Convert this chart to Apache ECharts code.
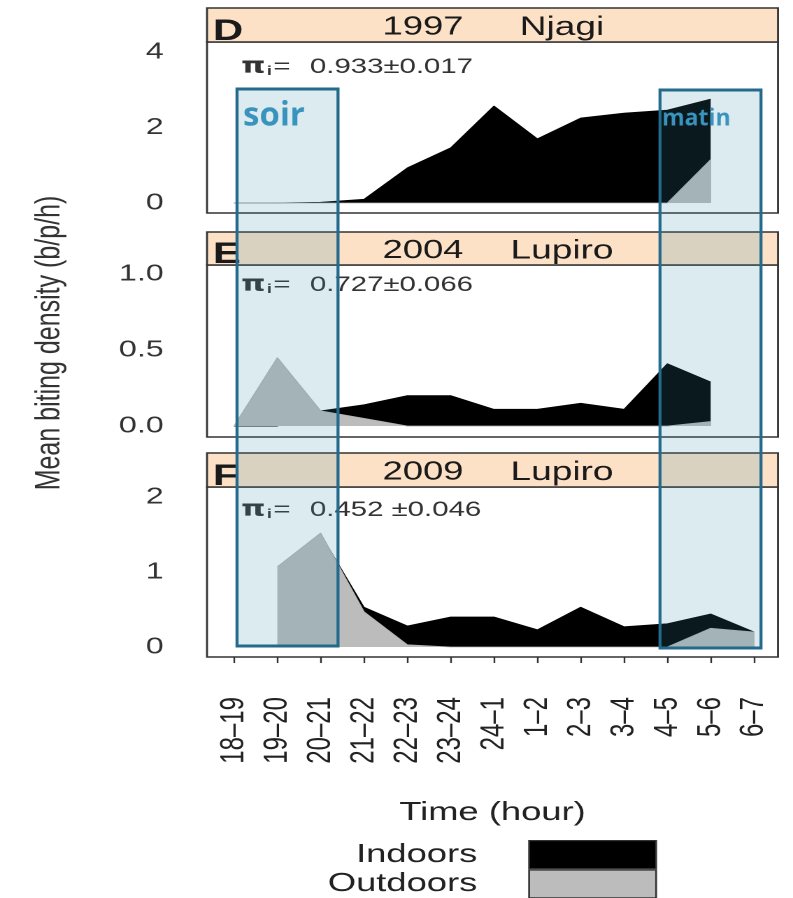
<!DOCTYPE html>
<html><head><meta charset="utf-8">
<script src="https://cdn.jsdelivr.net/npm/echarts@6/dist/echarts.min.js"></script>
<style>
html,body{margin:0;padding:0;background:#fff;overflow:hidden}
#wrap{width:793px;height:898px;overflow:hidden}
#c{width:567px;height:898px;transform:scaleX(1.3986);transform-origin:0 0}
</style>
</head><body><div id="wrap"><div id="c"></div></div>
<script>
// ---- data ----
const hours = ['18–19','19–20','20–21','21–22','22–23','23–24','24–1','1–2','2–3','3–4','4–5','5–6','6–7'];
const indoorD  = [0, 0, 0.02, 0.1, 0.93, 1.46, 2.57, 1.7, 2.25, 2.38, 2.46, 2.75, null];
const outdoorD = [0, 0, 0, 0, 0, 0, 0, 0, 0, 0, 0, 1.15, null];
const indoorE  = [0, 0, 0.1, 0.14, 0.2, 0.2, 0.11, 0.11, 0.15, 0.11, 0.41, 0.29, null];
const outdoorE = [0, 0.45, 0.1, 0.05, 0, 0, 0, 0, 0, 0, 0, 0.03, null];
const indoorF  = [null, 0, 1.5, 0.53, 0.28, 0.4, 0.4, 0.23, 0.53, 0.27, 0.31, 0.44, 0.2];
const outdoorF = [null, 1.07, 1.52, 0.47, 0.03, 0, 0, 0, 0, 0, 0, 0.25, 0.2];
const yTicksD = [0, 2, 4];
const yTicksE = [0, 0.5, 1.0];
const yTicksF = [0, 1, 2];
const panelLetters = ['D', 'E', 'F'];
const panelYears   = ['1997', '2004', '2009'];
const panelSites   = ['Njagi', 'Lupiro', 'Lupiro'];
const panelPi      = ['0.933±0.017', '0.727±0.066', '0.452 ±0.046'];

// ---- layout (the whole figure is stretched horizontally by S, like the reference) ----
const S = 793 / 567;
const sx = x => x / S;             // reference pixel x -> inner x
const FONT = "'Liberation Sans', Arial, sans-serif";
const pairs = arr => arr.map((v,i)=>[i,v]).filter(p=>p[1]!==null);

const layout = [
  {stripTop:8,   top:42,  height:171, ymin:-0.265, ymax:4.265, ticks:yTicksD, dec:0, indoor:indoorD, outdoor:outdoorD, piDy:25},
  {stripTop:232, top:265, height:172, ymin:-0.072, ymax:1.059, ticks:yTicksE, dec:1, indoor:indoorE, outdoor:outdoorE, piDy:20},
  {stripTop:453, top:487, height:170, ymin:-0.133, ymax:2.133, ticks:yTicksF, dec:0, indoor:indoorF, outdoor:outdoorF, piDy:23}
];
const GL = sx(207), GR = sx(778), GW = GR - GL;

const grid = [], xAxis = [], yAxis = [], series = [], graphic = [];
layout.forEach((p, k) => {
  grid.push({left:GL, width:GW, top:p.top, height:p.height, show:true, backgroundColor:'#fff', borderColor:'#333', borderWidth:1.4, z:1});
  const last = k === 2;
  xAxis.push({
    type:'value', gridIndex:k, min:-0.623, max:12.554,
    axisLine:{show:false}, splitLine:{show:false},
    axisTick:{show:last, customValues:hours.map((h,i)=>i), length:16, lineStyle:{color:'#333', width:1.2}},
    axisLabel:{show:last, customValues:hours.map((h,i)=>i), rotate:90, margin:40, fontSize:24, color:'#222', fontFamily:FONT,
      formatter: v => hours[Math.round(v)]},
    name: last ? 'Time (hour)' : '', nameLocation:'middle', nameGap:143,
    nameTextStyle:{fontSize:26, color:'#222', fontFamily:FONT}
  });
  yAxis.push({
    type:'value', gridIndex:k, min:p.ymin, max:p.ymax,
    axisLine:{show:false}, splitLine:{show:false},
    axisTick:{show:true, customValues:p.ticks, length:16, lineStyle:{color:'#333', width:1.5}},
    axisLabel:{customValues:p.ticks, margin:31, fontSize:23, color:'#333', fontFamily:FONT,
      formatter: v => Number(v).toFixed(p.dec)}
  });
  series.push({
    name:'Indoors', type:'line', xAxisIndex:k, yAxisIndex:k, data:pairs(p.indoor),
    showSymbol:false, symbol:'none', lineStyle:{width:0.8, color:'#000'}, itemStyle:{color:'#000'},
    areaStyle:{color:'#000', opacity:1}, z:2, silent:true
  });
  series.push({
    name:'Outdoors', type:'line', xAxisIndex:k, yAxisIndex:k, data:pairs(p.outdoor),
    showSymbol:false, symbol:'none', lineStyle:{width:0.8, color:'#b5b5b5'}, itemStyle:{color:'#bcbcbc'},
    areaStyle:{color:'#bcbcbc', opacity:1}, z:3, silent:true
  });
  // strip
  graphic.push({type:'rect', shape:{x:GL, y:p.stripTop, width:GW, height:p.top - p.stripTop},
    style:{fill:'#fde1c6', stroke:'#333', lineWidth:1.4}, z:5});
  graphic.push({type:'text', x:sx(213), y:p.top + 4.5, z:30,
    style:{text:panelLetters[k], fontSize:30, fontWeight:'bold', fill:'#1a1a1a', fontFamily:FONT, textVerticalAlign:'bottom'}});
  const mid = (p.stripTop + p.top) / 2 + 2.5;
  graphic.push({type:'text', x:sx(423), y:mid, z:6,
    style:{text:panelYears[k], fontSize:26, fill:'#1a1a1a', fontFamily:FONT, textAlign:'center', textVerticalAlign:'middle'}});
  graphic.push({type:'text', x:sx(562), y:mid, z:6,
    style:{text:panelSites[k], fontSize:26.5, fill:'#1a1a1a', fontFamily:FONT, textAlign:'center', textVerticalAlign:'middle'}});
  // pi label
  graphic.push({type:'text', x:sx(241), y:p.top + p.piDy, z:6, style:{
    text:'{p|π}{s|i}{e|=}{t|' + panelPi[k] + '}', textVerticalAlign:'middle', fontFamily:FONT,
    rich:{p:{fontSize:22, fontWeight:'bold', fill:'#333', fontFamily:"'DejaVu Sans', sans-serif"},
          s:{fontSize:13, fontWeight:'bold', fill:'#333', fontFamily:FONT, padding:[9,0,0,1]},
          e:{fontSize:21, fill:'#333', fontFamily:FONT, padding:[0,0,0,1]},
          t:{fontSize:21, fill:'#333', fontFamily:FONT, padding:[0,0,0,14]}}
  }});
});

// y-axis title
graphic.push({type:'text', x:sx(50), y:343, rotation:Math.PI/2, z:6,
  style:{text:'Mean biting density (b/p/h)', fontSize:25, fill:'#333', fontFamily:FONT, textAlign:'center', textVerticalAlign:'middle'}});

// annotation boxes ("soir" / "matin") added on top of the figure
function box(x0, y0, x1, y1) {
  const c = '#236a8c';
  graphic.push({type:'rect', shape:{x:sx(x0), y:y0, width:sx(x1) - sx(x0), height:y1 - y0}, z:50,
    style:{fill:'rgba(57,140,172,0.175)'}});
  graphic.push({type:'line', shape:{x1:sx(x0), y1:y0 - 1.5, x2:sx(x0), y2:y1 + 1.5}, z:51, style:{stroke:c, lineWidth:3 / S}});
  graphic.push({type:'line', shape:{x1:sx(x1), y1:y0 - 1.5, x2:sx(x1), y2:y1 + 1.5}, z:51, style:{stroke:c, lineWidth:3 / S}});
  graphic.push({type:'line', shape:{x1:sx(x0), y1:y0, x2:sx(x1), y2:y0}, z:51, style:{stroke:c, lineWidth:3}});
  graphic.push({type:'line', shape:{x1:sx(x0), y1:y1, x2:sx(x1), y2:y1}, z:51, style:{stroke:c, lineWidth:3}});
}
box(237, 89, 338, 646);
box(660, 90, 761, 648);
graphic.push({type:'text', x:sx(243), y:116, scaleX:1 / S, z:52,
  style:{text:'soir', fontSize:33, fontWeight:'bold', fill:'#3a93bd', fontFamily:"'Open Sans', sans-serif", textVerticalAlign:'middle'}});
graphic.push({type:'text', x:sx(662), y:119, scaleX:1 / S, z:52,
  style:{text:'matin', fontSize:23, fontWeight:'bold', fill:'#3a93bd', fontFamily:"'Open Sans', sans-serif", textVerticalAlign:'middle'}});

const chart = echarts.init(document.getElementById('c'), null, {renderer:'canvas', devicePixelRatio:2});
chart.setOption({
  animation:false,
  backgroundColor:'#fff',
  grid, xAxis, yAxis, series, graphic,
  legend:{
    data:['Indoors','Outdoors'], orient:'vertical', right:567 - sx(657), top:840, height:80, padding:0, align:'right',
    itemWidth:sx(657) - sx(530), itemHeight:28, itemGap:0, icon:'rect',
    itemStyle:{borderColor:'#333', borderWidth:1.3},
    selectedMode:false,
    textStyle:{fontSize:26, color:'#222', fontFamily:FONT, padding:[0,32,0,0]}
  }
});
</script></body></html>
